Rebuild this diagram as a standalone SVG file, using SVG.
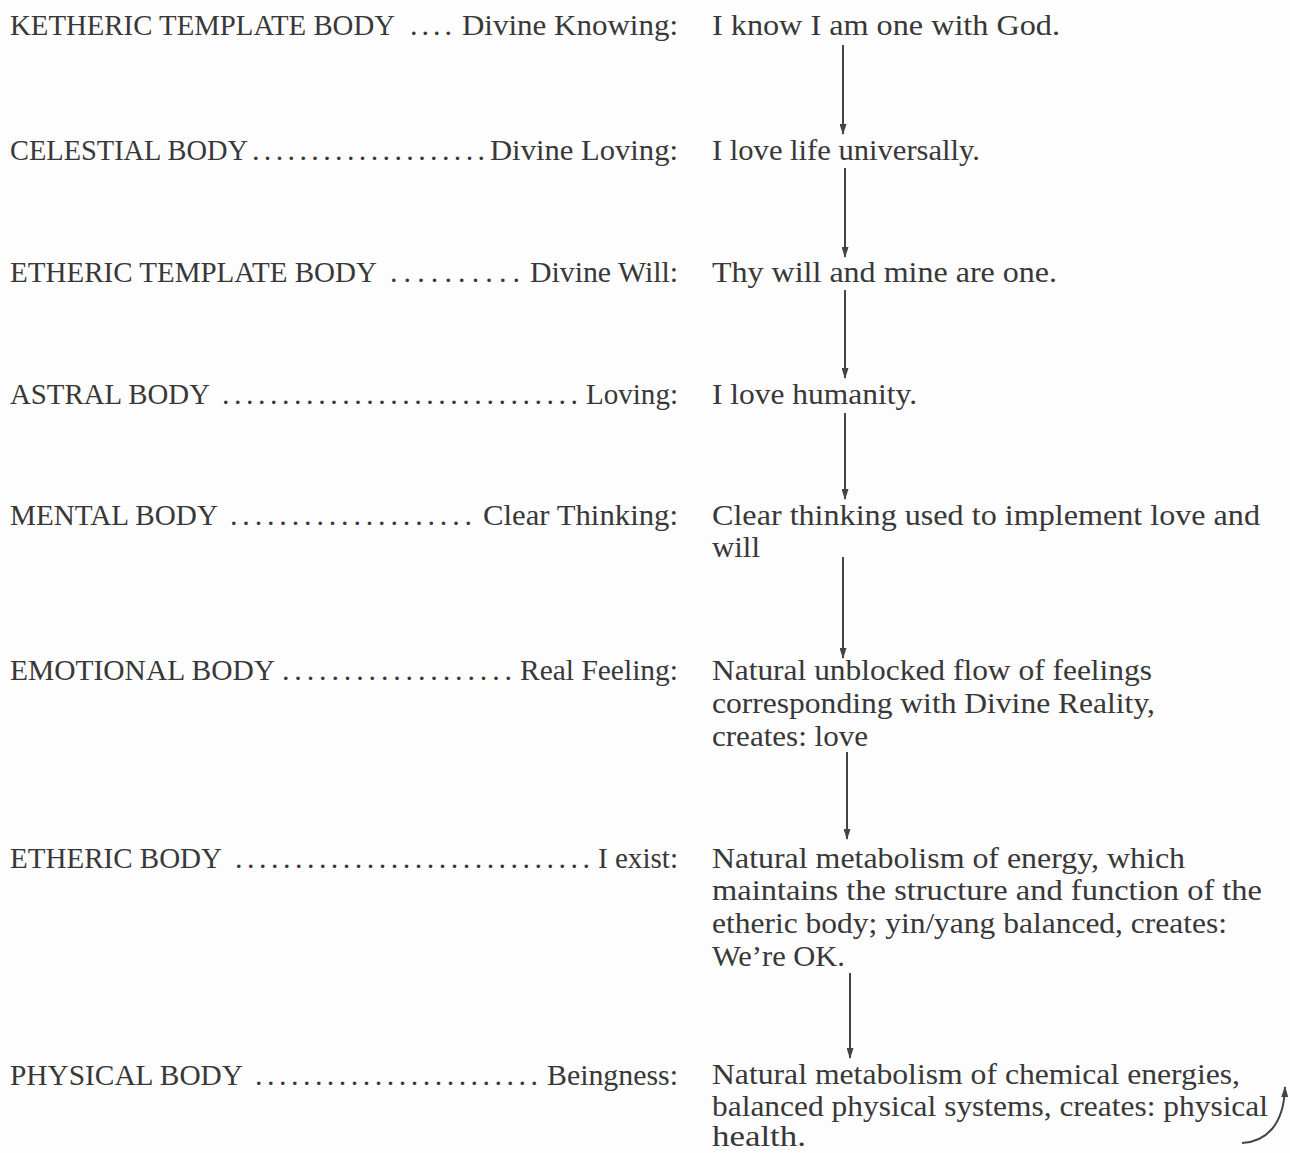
<svg xmlns="http://www.w3.org/2000/svg" width="1290" height="1153" viewBox="0 0 1290 1153">
<style>
text{font-family:"Liberation Serif","Times New Roman",serif;font-size:30px;fill:#383838}
.r{text-anchor:end}
.s{font-size:28.5px}
.c{stroke:#444;stroke-width:2;fill:none}
</style>
<defs>
<marker id="ah" markerUnits="userSpaceOnUse" markerWidth="11" markerHeight="7" refX="10" refY="3.5" orient="auto">
<path d="M0,0 L11,3.5 L0,7 z" fill="#444"/>
</marker>
</defs>
<rect width="1290" height="1153" fill="#fdfdfd"/>
<g id="ketheric">
<text x="10" y="35" textLength="385" lengthAdjust="spacingAndGlyphs">KETHERIC TEMPLATE BODY</text>
<text x="410" y="35" textLength="42" lengthAdjust="spacing">....</text>
<text class="r" x="678" y="35" textLength="216" lengthAdjust="spacingAndGlyphs">Divine Knowing:</text>
<text x="712" y="35" textLength="348" lengthAdjust="spacingAndGlyphs">I know I am one with God.</text>
</g>
<g id="celestial">
<text x="10" y="160" textLength="238" lengthAdjust="spacingAndGlyphs">CELESTIAL BODY</text>
<text x="252" y="160" textLength="233" lengthAdjust="spacing">....................</text>
<text class="r" x="678" y="160" textLength="188" lengthAdjust="spacingAndGlyphs">Divine Loving:</text>
<text x="712" y="160" textLength="268" lengthAdjust="spacingAndGlyphs">I love life universally.</text>
</g>
<g id="etheric-template">
<text x="10" y="282" textLength="367" lengthAdjust="spacingAndGlyphs">ETHERIC TEMPLATE BODY</text>
<text x="390" y="282" textLength="130" lengthAdjust="spacing">..........</text>
<text class="r" x="678" y="282" textLength="148" lengthAdjust="spacingAndGlyphs">Divine Will:</text>
<text x="712" y="282" textLength="345" lengthAdjust="spacingAndGlyphs">Thy will and mine are one.</text>
</g>
<g id="astral">
<text x="10" y="404" textLength="200" lengthAdjust="spacingAndGlyphs">ASTRAL BODY</text>
<text x="222" y="404" textLength="356" lengthAdjust="spacing">..............................</text>
<text class="r" x="678" y="404" textLength="92" lengthAdjust="spacingAndGlyphs">Loving:</text>
<text x="712" y="404" textLength="205" lengthAdjust="spacingAndGlyphs">I love humanity.</text>
</g>
<g id="mental">
<text x="10" y="525" textLength="208" lengthAdjust="spacingAndGlyphs">MENTAL BODY</text>
<text x="230" y="525" textLength="242" lengthAdjust="spacing">....................</text>
<text class="r" x="678" y="525" textLength="195" lengthAdjust="spacingAndGlyphs">Clear Thinking:</text>
<text x="712" y="525" textLength="548" lengthAdjust="spacingAndGlyphs">Clear thinking used to implement love and</text>
<text x="712" y="557" textLength="48" lengthAdjust="spacingAndGlyphs">will</text>
</g>
<g id="emotional">
<text x="10" y="680" textLength="265" lengthAdjust="spacingAndGlyphs">EMOTIONAL BODY</text>
<text x="282" y="680" textLength="230" lengthAdjust="spacing">...................</text>
<text class="r" x="678" y="680" textLength="158" lengthAdjust="spacingAndGlyphs">Real Feeling:</text>
<text x="712" y="680" textLength="440" lengthAdjust="spacingAndGlyphs">Natural unblocked flow of feelings</text>
<text x="712" y="713" textLength="443" lengthAdjust="spacingAndGlyphs">corresponding with Divine Reality,</text>
<text x="712" y="746" textLength="156" lengthAdjust="spacingAndGlyphs">creates: love</text>
</g>
<g id="etheric">
<text x="10" y="868" textLength="212" lengthAdjust="spacingAndGlyphs">ETHERIC BODY</text>
<text x="235" y="868" textLength="355" lengthAdjust="spacing">..............................</text>
<text class="r" x="678" y="868" textLength="80" lengthAdjust="spacingAndGlyphs">I exist:</text>
<text x="712" y="868" textLength="473" lengthAdjust="spacingAndGlyphs">Natural metabolism of energy, which</text>
<text x="712" y="900" textLength="550" lengthAdjust="spacingAndGlyphs">maintains the structure and function of the</text>
<text x="712" y="933" textLength="515" lengthAdjust="spacingAndGlyphs">etheric body; yin/yang balanced, creates:</text>
<text x="712" y="966" textLength="133" lengthAdjust="spacingAndGlyphs">We’re OK.</text>
</g>
<g id="physical">
<text x="10" y="1085" textLength="233" lengthAdjust="spacingAndGlyphs">PHYSICAL BODY</text>
<text x="255" y="1085" textLength="283" lengthAdjust="spacing">........................</text>
<text class="r" x="678" y="1085" textLength="131" lengthAdjust="spacingAndGlyphs">Beingness:</text>
<text class="s" x="712" y="1084" textLength="528" lengthAdjust="spacingAndGlyphs">Natural metabolism of chemical energies,</text>
<text class="s" x="712" y="1116" textLength="556" lengthAdjust="spacingAndGlyphs">balanced physical systems, creates: physical</text>
<text class="s" x="712" y="1146" textLength="94" lengthAdjust="spacingAndGlyphs">health.</text>
</g>
<g id="connectors">
<line class="c" x1="843" y1="45" x2="843" y2="134" marker-end="url(#ah)"/>
<line class="c" x1="845" y1="168" x2="845" y2="257" marker-end="url(#ah)"/>
<line class="c" x1="845" y1="290" x2="845" y2="378" marker-end="url(#ah)"/>
<line class="c" x1="845" y1="413" x2="845" y2="499" marker-end="url(#ah)"/>
<line class="c" x1="843" y1="557" x2="843" y2="658" marker-end="url(#ah)"/>
<line class="c" x1="847" y1="752" x2="847" y2="839" marker-end="url(#ah)"/>
<line class="c" x1="850" y1="973" x2="850" y2="1058" marker-end="url(#ah)"/>
<path class="c" d="M1242,1143 C1265,1142 1284,1126 1285,1087" marker-end="url(#ah)"/>
</g>
</svg>
